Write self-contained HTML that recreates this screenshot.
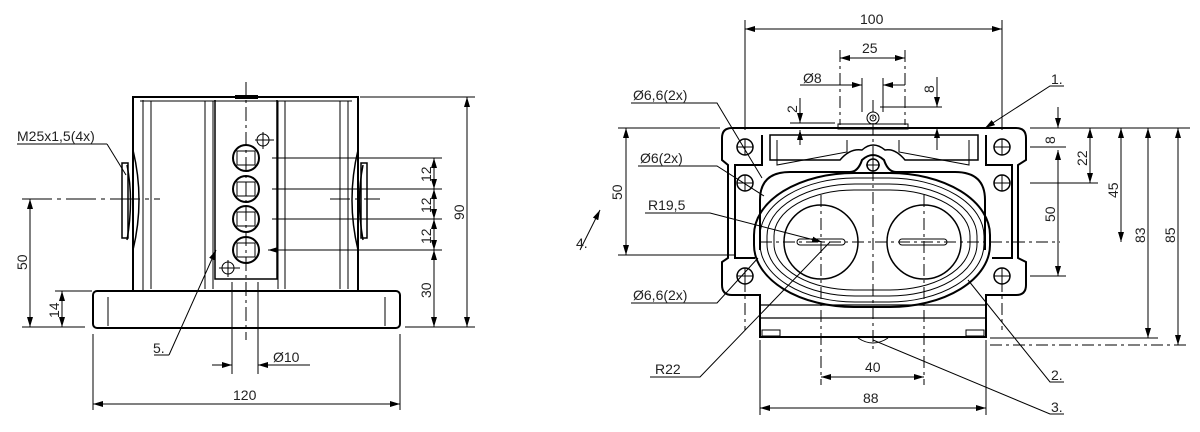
<!DOCTYPE html>
<html><head><meta charset="utf-8"><style>
html,body{margin:0;padding:0;background:#fff}
svg{display:block}
text{font-family:"Liberation Sans",sans-serif;font-size:14px;fill:#222}
</style></head><body>
<svg width="1200" height="432" viewBox="0 0 1200 432" xmlns="http://www.w3.org/2000/svg">
<defs>
<marker id="a" viewBox="0 0 10 6" refX="10" refY="3" markerWidth="10" markerHeight="6" orient="auto-start-reverse" markerUnits="userSpaceOnUse"><path d="M0,0L10,3L0,6z" fill="#000"/></marker>
</defs>
<g fill="none" stroke="#000" stroke-width="1">
<!-- LEFT VIEW -->
<g stroke-width="2">
<rect x="133" y="97" width="225" height="194"/>
<rect x="93" y="291" width="307" height="37" rx="4"/>
</g>
<line x1="143" y1="100" x2="143" y2="291"/><line x1="151" y1="101" x2="151" y2="289"/>
<line x1="205" y1="101" x2="205" y2="289"/><line x1="213" y1="101" x2="213" y2="289"/>
<line x1="278" y1="101" x2="278" y2="289"/><line x1="285" y1="101" x2="285" y2="289"/>
<line x1="340" y1="101" x2="340" y2="289"/><line x1="348" y1="101" x2="348" y2="289"/>
<path d="M215 100V279H277V100" stroke-width="1.5"/>
<line x1="140" y1="101" x2="352" y2="101"/>
<line x1="108" y1="297" x2="108" y2="326"/><line x1="385" y1="297" x2="385" y2="326"/>
<line x1="235" y1="97" x2="258" y2="97" stroke-width="4"/>
<path d="M127 165Q134 200 127 240M133 150Q145 200 133 250" stroke-width="1.5"/>
<rect x="122" y="163" width="6" height="75" stroke-width="1.5"/>
<path d="M363 165Q356 200 363 240M358 150Q346 200 358 250" stroke-width="1.5"/>
<rect x="361" y="163" width="6" height="75" stroke-width="1.5"/>
<g stroke-width="2">
<circle cx="246" cy="158" r="13"/><circle cx="246" cy="189" r="13"/><circle cx="246" cy="219" r="13"/><circle cx="246" cy="250" r="13"/>
</g>
<g>
<rect x="237" y="151" width="18" height="14"/><rect x="237" y="182" width="18" height="14"/><rect x="237" y="212" width="18" height="14"/><rect x="237" y="243" width="18" height="14"/>
<circle cx="263" cy="140" r="6"/><path d="M255 140H274M263 132V149"/>
<circle cx="228" cy="268" r="6"/><path d="M219 268H240M228 260V277"/>
</g>
<line x1="246" y1="82" x2="246" y2="340" stroke-dasharray="14,4,3,4"/>
<line x1="22" y1="199" x2="160" y2="199" stroke-dasharray="30,5,4,5"/>
<line x1="330" y1="199" x2="380" y2="199" stroke-dasharray="20,5,4,5"/>
<!-- dims left -->
<line x1="360" y1="97" x2="475" y2="97"/><line x1="405" y1="327" x2="475" y2="327"/>
<line x1="467" y1="97" x2="467" y2="327" marker-start="url(#a)" marker-end="url(#a)"/>
<line x1="272" y1="158" x2="442" y2="158"/><line x1="272" y1="189" x2="442" y2="189"/><line x1="272" y1="219" x2="442" y2="219"/><line x1="272" y1="250" x2="442" y2="250"/>
<line x1="434" y1="158" x2="434" y2="189" marker-start="url(#a)" marker-end="url(#a)"/>
<line x1="434" y1="189" x2="434" y2="219" marker-start="url(#a)" marker-end="url(#a)"/>
<line x1="434" y1="219" x2="434" y2="250" marker-start="url(#a)" marker-end="url(#a)"/>
<line x1="434" y1="250" x2="434" y2="327" marker-start="url(#a)" marker-end="url(#a)"/>
<line x1="22" y1="327" x2="85" y2="327"/><line x1="55" y1="291" x2="92" y2="291"/>
<line x1="30" y1="199" x2="30" y2="327" marker-start="url(#a)" marker-end="url(#a)"/>
<line x1="62" y1="291" x2="62" y2="327" marker-start="url(#a)" marker-end="url(#a)"/>
<line x1="93" y1="334" x2="93" y2="410"/><line x1="400" y1="334" x2="400" y2="410"/>
<line x1="93" y1="404" x2="400" y2="404" marker-start="url(#a)" marker-end="url(#a)"/>
<line x1="232" y1="282" x2="232" y2="374"/><line x1="258" y1="282" x2="258" y2="374"/>
<line x1="212" y1="365" x2="232" y2="365" marker-end="url(#a)"/><line x1="310" y1="365" x2="258" y2="365" marker-end="url(#a)"/>
<line x1="17" y1="144" x2="107" y2="144"/><line x1="107" y1="144" x2="126" y2="175"/>
<line x1="154" y1="355" x2="169" y2="355"/><line x1="169" y1="355" x2="216" y2="250" marker-end="url(#a)"/>
<path d="M277 250H268" marker-end="url(#a)"/>

<!-- RIGHT VIEW -->
<g stroke-width="2">
<path d="M732 128H1016Q1026 128 1026 138V160L1018 165V258L1026 262V285Q1026 295 1016 295H986V337H760V295H732Q722 295 722 285V262L728 258V165L722 160V138Q722 128 732 128Z"/>
<path d="M762 135V165H735V258H755M986 135V165H1012V258H992"/>
<path d="M770 135H978V160H905Q895 148 885 150Q873 140 862 150Q850 148 840 160H770Z" stroke-width="1.5"/>
<rect x="754" y="173" width="236" height="134" rx="100" ry="62"/>
<path d="M760 250V200Q760 172 790 172H850Q858 172 862 160Q873 150 884 160Q888 172 896 172H955Q985 172 985 200V250"/>
</g>
<path d="M777 140V165L847 152V140M969 140V165L899 152V140"/>
<rect x="760" y="178" width="224" height="124" rx="95" ry="58"/>
<rect x="767" y="184" width="210" height="112" rx="88" ry="52"/>
<rect x="774" y="190" width="196" height="100" rx="80" ry="46"/>
<circle cx="821" cy="242" r="37" stroke-width="1.5"/><circle cx="924" cy="242" r="37" stroke-width="1.5"/>
<rect x="797" y="239" width="48" height="6" rx="3"/><rect x="899" y="239" width="48" height="6" rx="3"/>
<path d="M760 318H986M760 305H986" stroke-width="1.2"/>
<rect x="762" y="330" width="18" height="6"/><rect x="966" y="330" width="18" height="6"/>
<path d="M858 338Q873 348 888 338"/>
<rect x="838" y="124" width="70" height="5"/>
<circle cx="873" cy="118" r="6"/><circle cx="873" cy="118" r="3"/>
<g stroke-width="1.5">
<circle cx="745" cy="147" r="8"/><circle cx="745" cy="183" r="8"/><circle cx="745" cy="276" r="8"/>
<circle cx="1002" cy="147" r="8"/><circle cx="1002" cy="183" r="8"/><circle cx="1002" cy="276" r="8"/>
<circle cx="873" cy="165" r="6"/>
</g>
<path d="M737 147H753M745 139V155M737 183H753M745 175V191M737 276H753M745 268V284M994 147H1010M1002 139V155M994 183H1010M1002 175V191M994 276H1010M1002 268V284M866 165H880M873 158V172"/>
<g stroke-dasharray="12,4,3,4">
<line x1="873" y1="100" x2="873" y2="350"/>
<line x1="821" y1="195" x2="821" y2="385"/><line x1="924" y1="195" x2="924" y2="385"/>
<line x1="760" y1="242" x2="1060" y2="242"/>
<line x1="840" y1="50" x2="840" y2="125"/><line x1="905" y1="50" x2="905" y2="125"/>
<line x1="745" y1="280" x2="745" y2="330"/><line x1="1002" y1="280" x2="1002" y2="330"/>
<line x1="990" y1="345" x2="1190" y2="345"/>
</g>
<!-- dims right -->
<line x1="745" y1="20" x2="745" y2="130"/><line x1="1002" y1="20" x2="1002" y2="130"/>
<line x1="745" y1="29" x2="1002" y2="29" marker-start="url(#a)" marker-end="url(#a)"/>
<line x1="840" y1="58" x2="905" y2="58" marker-start="url(#a)" marker-end="url(#a)"/>
<line x1="862" y1="78" x2="862" y2="112"/><line x1="883" y1="78" x2="883" y2="112"/>
<line x1="800" y1="85" x2="862" y2="85" marker-end="url(#a)"/><line x1="905" y1="85" x2="883" y2="85" marker-end="url(#a)"/>
<line x1="880" y1="107" x2="942" y2="107"/>
<line x1="937" y1="77" x2="937" y2="107" marker-end="url(#a)"/><line x1="937" y1="150" x2="937" y2="128" marker-end="url(#a)"/>
<line x1="790" y1="123" x2="835" y2="123"/>
<line x1="800" y1="98" x2="800" y2="123" marker-end="url(#a)"/><line x1="800" y1="145" x2="800" y2="130" marker-end="url(#a)"/>
<line x1="1030" y1="128" x2="1190" y2="128"/><line x1="618" y1="128" x2="720" y2="128"/>
<line x1="618" y1="255" x2="735" y2="255"/>
<line x1="626" y1="128" x2="626" y2="255" marker-start="url(#a)" marker-end="url(#a)"/>
<line x1="1030" y1="147" x2="1066" y2="147"/><line x1="1030" y1="183" x2="1098" y2="183"/><line x1="1030" y1="276" x2="1066" y2="276"/>
<line x1="990" y1="338" x2="1158" y2="338"/>
<line x1="1058" y1="107" x2="1058" y2="128" marker-end="url(#a)"/>
<line x1="1058" y1="150" x2="1058" y2="276" marker-start="url(#a)" marker-end="url(#a)"/>
<line x1="1090" y1="128" x2="1090" y2="183" marker-start="url(#a)" marker-end="url(#a)"/>
<line x1="1121" y1="128" x2="1121" y2="242" marker-start="url(#a)" marker-end="url(#a)"/>
<line x1="1148" y1="128" x2="1148" y2="338" marker-start="url(#a)" marker-end="url(#a)"/>
<line x1="1178" y1="128" x2="1178" y2="345" marker-start="url(#a)" marker-end="url(#a)"/>
<line x1="760" y1="340" x2="760" y2="415"/><line x1="986" y1="340" x2="986" y2="415"/>
<line x1="760" y1="408" x2="986" y2="408" marker-start="url(#a)" marker-end="url(#a)"/>
<line x1="821" y1="377" x2="924" y2="377" marker-start="url(#a)" marker-end="url(#a)"/>
<!-- leaders -->
<path d="M631 103H717L762 178"/>
<path d="M638 166H717L764 196"/>
<path d="M645 213H710L822 242" marker-end="url(#a)"/>
<path d="M631 303H717L758 258"/>
<path d="M650 377H700L830 242"/>
<path d="M1064 86H1050L985 128" marker-end="url(#a)"/>
<path d="M1064 382H1050L968 280"/>
<path d="M1064 414H1050L873 340"/>
<path d="M580 250L600 210" marker-end="url(#a)"/>
</g>
<g>
<text x="17" y="141">M25x1,5(4x)</text>
<text x="153" y="353">5.</text>
<text x="273" y="362">Ø10</text>
<text x="233" y="400">120</text>
<text transform="translate(27,270) rotate(-90)">50</text>
<text transform="translate(59,318) rotate(-90)">14</text>
<text transform="translate(464,220) rotate(-90)">90</text>
<text transform="translate(431,182) rotate(-90)">12</text>
<text transform="translate(431,213) rotate(-90)">12</text>
<text transform="translate(431,244) rotate(-90)">12</text>
<text transform="translate(431,298) rotate(-90)">30</text>

<text x="860" y="24">100</text>
<text x="862" y="53">25</text>
<text x="803" y="83">Ø8</text>
<text transform="translate(797,113) rotate(-90)">2</text>
<text transform="translate(934,93) rotate(-90)">8</text>
<text x="633" y="100">Ø6,6(2x)</text>
<text x="640" y="163">Ø6(2x)</text>
<text x="648" y="210">R19,5</text>
<text x="633" y="300">Ø6,6(2x)</text>
<text x="655" y="374">R22</text>
<text x="865" y="372">40</text>
<text x="863" y="403">88</text>
<text x="1051" y="84">1.</text>
<text x="1051" y="380">2.</text>
<text x="1051" y="412">3.</text>
<text x="576" y="248">4.</text>
<text transform="translate(622,200) rotate(-90)">50</text>
<text transform="translate(1055,144) rotate(-90)">8</text>
<text transform="translate(1055,222) rotate(-90)">50</text>
<text transform="translate(1087,166) rotate(-90)">22</text>
<text transform="translate(1118,198) rotate(-90)">45</text>
<text transform="translate(1145,243) rotate(-90)">83</text>
<text transform="translate(1175,243) rotate(-90)">85</text>
</g>
</svg>
</body></html>
